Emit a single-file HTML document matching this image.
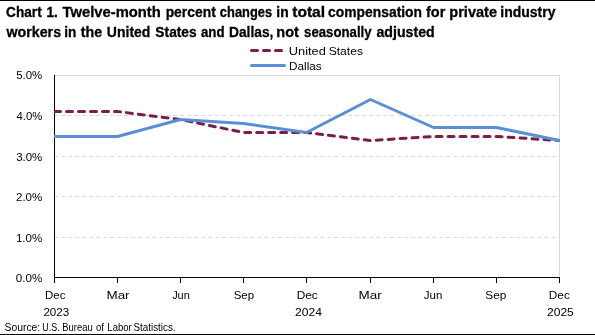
<!DOCTYPE html>
<html><head><meta charset="utf-8"><style>
html,body{margin:0;padding:0;background:#fff;width:595px;height:335px;overflow:hidden}
svg{display:block;font-family:"Liberation Sans", sans-serif;will-change:transform}
</style></head><body>
<svg width="595" height="335" viewBox="0 0 595 335">
<rect x="0" y="0" width="595" height="1" fill="#000"/>
<rect x="0" y="334" width="595" height="1" fill="#000"/>
<text x="0" y="17.2" font-size="14.5" font-weight="bold" stroke="#000" stroke-width="0.3" fill="#000" transform="matrix(0.9407 0 0 1 6.086 0)">Chart</text>
<text x="0" y="17.2" font-size="14.5" font-weight="bold" stroke="#000" stroke-width="0.3" fill="#000" transform="matrix(0.9412 0 0 1 46.503 0)">1.</text>
<text x="0" y="17.2" font-size="14.5" font-weight="bold" stroke="#000" stroke-width="0.3" fill="#000" transform="matrix(1.0205 0 0 1 62.597 0)">Twelve-month</text>
<text x="0" y="17.2" font-size="14.5" font-weight="bold" stroke="#000" stroke-width="0.3" fill="#000" transform="matrix(0.9580 0 0 1 165.640 0)">percent</text>
<text x="0" y="17.2" font-size="14.5" font-weight="bold" stroke="#000" stroke-width="0.3" fill="#000" transform="matrix(0.8881 0 0 1 219.862 0)">changes</text>
<text x="0" y="17.2" font-size="14.5" font-weight="bold" stroke="#000" stroke-width="0.3" fill="#000" transform="matrix(0.9545 0 0 1 276.295 0)">in</text>
<text x="0" y="17.2" font-size="14.5" font-weight="bold" stroke="#000" stroke-width="0.3" fill="#000" transform="matrix(1.0764 0 0 1 292.189 0)">total</text>
<text x="0" y="17.2" font-size="14.5" font-weight="bold" stroke="#000" stroke-width="0.3" fill="#000" transform="matrix(0.9561 0 0 1 328.124 0)">compensation</text>
<text x="0" y="17.2" font-size="14.5" font-weight="bold" stroke="#000" stroke-width="0.3" fill="#000" transform="matrix(1.0000 0 0 1 426.000 0)">for</text>
<text x="0" y="17.2" font-size="14.5" font-weight="bold" stroke="#000" stroke-width="0.3" fill="#000" transform="matrix(1.0043 0 0 1 449.296 0)">private</text>
<text x="0" y="17.2" font-size="14.5" font-weight="bold" stroke="#000" stroke-width="0.3" fill="#000" transform="matrix(0.9653 0 0 1 500.285 0)">industry</text>
<text x="0" y="37.2" font-size="14.5" font-weight="bold" stroke="#000" stroke-width="0.3" fill="#000" transform="matrix(0.9809 0 0 1 6.499 0)">workers</text>
<text x="0" y="37.2" font-size="14.5" font-weight="bold" stroke="#000" stroke-width="0.3" fill="#000" transform="matrix(0.9364 0 0 1 64.314 0)">in</text>
<text x="0" y="37.2" font-size="14.5" font-weight="bold" stroke="#000" stroke-width="0.3" fill="#000" transform="matrix(0.9858 0 0 1 80.802 0)">the</text>
<text x="0" y="37.2" font-size="14.5" font-weight="bold" stroke="#000" stroke-width="0.3" fill="#000" transform="matrix(0.9654 0 0 1 106.829 0)">United</text>
<text x="0" y="37.2" font-size="14.5" font-weight="bold" stroke="#000" stroke-width="0.3" fill="#000" transform="matrix(0.9506 0 0 1 155.370 0)">States</text>
<text x="0" y="37.2" font-size="14.5" font-weight="bold" stroke="#000" stroke-width="0.3" fill="#000" transform="matrix(0.9180 0 0 1 200.883 0)">and</text>
<text x="0" y="37.2" font-size="14.5" font-weight="bold" stroke="#000" stroke-width="0.3" fill="#000" transform="matrix(0.9487 0 0 1 229.049 0)">Dallas,</text>
<text x="0" y="37.2" font-size="14.5" font-weight="bold" stroke="#000" stroke-width="0.3" fill="#000" transform="matrix(1.0000 0 0 1 276.300 0)">not</text>
<text x="0" y="37.2" font-size="14.5" font-weight="bold" stroke="#000" stroke-width="0.3" fill="#000" transform="matrix(0.9103 0 0 1 304.095 0)">seasonally</text>
<text x="0" y="37.2" font-size="14.5" font-weight="bold" stroke="#000" stroke-width="0.3" fill="#000" transform="matrix(0.9785 0 0 1 376.459 0)">adjusted</text>
<line x1="251.5" y1="50.5" x2="281.5" y2="50.5" stroke="#7a1f4d" stroke-width="3" stroke-linecap="round" stroke-dasharray="6 6"/>
<line x1="251.5" y1="65.5" x2="284.5" y2="65.5" stroke="#5b8fd5" stroke-width="3" stroke-linecap="round"/>
<text x="0" y="54.8" font-size="11" fill="#000" transform="matrix(1.1669 0 0 1 288.808 0)">United</text>
<text x="0" y="54.8" font-size="11" fill="#000" transform="matrix(1.1023 0 0 1 328.649 0)">States</text>
<text x="0" y="69.8" font-size="11" fill="#000" transform="matrix(1.0667 0 0 1 289.040 0)">Dallas</text>
<path d="M54 75.5 H559.5 V277" fill="none" stroke="#d9d9d9" stroke-width="1"/>
<line x1="54.25" y1="115.5" x2="559" y2="115.5" stroke="#d9d9d9" stroke-width="1" stroke-dasharray="4 3"/>
<line x1="54.25" y1="156.5" x2="559" y2="156.5" stroke="#d9d9d9" stroke-width="1" stroke-dasharray="4 3"/>
<line x1="54.25" y1="196.5" x2="559" y2="196.5" stroke="#d9d9d9" stroke-width="1" stroke-dasharray="4 3"/>
<line x1="54.25" y1="237.5" x2="559" y2="237.5" stroke="#d9d9d9" stroke-width="1" stroke-dasharray="4 3"/>
<line x1="54.5" y1="75" x2="54.5" y2="283" stroke="#000" stroke-width="1"/>
<line x1="54" y1="277.5" x2="560" y2="277.5" stroke="#000" stroke-width="1"/>
<line x1="54.5" y1="277" x2="54.5" y2="283" stroke="#000" stroke-width="1"/>
<line x1="117.5" y1="277" x2="117.5" y2="283" stroke="#000" stroke-width="1"/>
<line x1="180.5" y1="277" x2="180.5" y2="283" stroke="#000" stroke-width="1"/>
<line x1="243.5" y1="277" x2="243.5" y2="283" stroke="#000" stroke-width="1"/>
<line x1="306.5" y1="277" x2="306.5" y2="283" stroke="#000" stroke-width="1"/>
<line x1="370.5" y1="277" x2="370.5" y2="283" stroke="#000" stroke-width="1"/>
<line x1="433.5" y1="277" x2="433.5" y2="283" stroke="#000" stroke-width="1"/>
<line x1="496.5" y1="277" x2="496.5" y2="283" stroke="#000" stroke-width="1"/>
<line x1="559.5" y1="277" x2="559.5" y2="283" stroke="#000" stroke-width="1"/>
<text x="0" y="79.2" font-size="11" fill="#000" transform="matrix(1.0392 0 0 1 16.132 0)">5.0%</text>
<text x="0" y="119.7" font-size="11" fill="#000" transform="matrix(1.0307 0 0 1 16.442 0)">4.0%</text>
<text x="0" y="160.6" font-size="11" fill="#000" transform="matrix(1.0412 0 0 1 16.184 0)">3.0%</text>
<text x="0" y="200.6" font-size="11" fill="#000" transform="matrix(1.0476 0 0 1 16.024 0)">2.0%</text>
<text x="0" y="241.9" font-size="11" fill="#000" transform="matrix(1.0524 0 0 1 15.905 0)">1.0%</text>
<text x="0" y="281.8" font-size="11" fill="#000" transform="matrix(1.0576 0 0 1 15.777 0)">0.0%</text>
<text x="0" y="298.7" font-size="10.6" fill="#000" transform="matrix(1.0791 0 0 1 45.083 0)">Dec</text>
<text x="0" y="298.7" font-size="10.6" fill="#000" transform="matrix(1.2638 0 0 1 106.526 0)">Mar</text>
<text x="0" y="298.7" font-size="10.6" fill="#000" transform="matrix(1.0338 0 0 1 172.145 0)">Jun</text>
<text x="0" y="298.7" font-size="10.6" fill="#000" transform="matrix(1.0838 0 0 1 233.658 0)">Sep</text>
<text x="0" y="298.7" font-size="10.6" fill="#000" transform="matrix(1.1186 0 0 1 296.649 0)">Dec</text>
<text x="0" y="298.7" font-size="10.6" fill="#000" transform="matrix(1.2696 0 0 1 358.621 0)">Mar</text>
<text x="0" y="298.7" font-size="10.6" fill="#000" transform="matrix(1.0831 0 0 1 423.838 0)">Jun</text>
<text x="0" y="298.7" font-size="10.6" fill="#000" transform="matrix(1.1117 0 0 1 485.344 0)">Sep</text>
<text x="0" y="298.7" font-size="10.6" fill="#000" transform="matrix(1.1130 0 0 1 548.854 0)">Dec</text>
<text x="0" y="316.2" font-size="10.6" fill="#000" transform="matrix(1.0973 0 0 1 43.396 0)">2023</text>
<text x="0" y="316.2" font-size="10.6" fill="#000" transform="matrix(1.1429 0 0 1 294.971 0)">2024</text>
<text x="0" y="316.2" font-size="10.6" fill="#000" transform="matrix(1.1372 0 0 1 546.975 0)">2025</text>
<text x="0" y="331.1" font-size="10" fill="#000" transform="matrix(1.0363 0 0 1 4.534 0)">Source:</text>
<text x="0" y="331.1" font-size="10" fill="#000" transform="matrix(0.8958 0 0 1 42.228 0)">U.S.</text>
<text x="0" y="331.1" font-size="10" fill="#000" transform="matrix(0.9416 0 0 1 62.347 0)">Bureau</text>
<text x="0" y="331.1" font-size="10" fill="#000" transform="matrix(0.9560 0 0 1 95.918 0)">of</text>
<text x="0" y="331.1" font-size="10" fill="#000" transform="matrix(0.9553 0 0 1 107.336 0)">Labor</text>
<text x="0" y="331.1" font-size="10" fill="#000" transform="matrix(0.9855 0 0 1 133.457 0)">Statistics.</text>
<clipPath id="pc"><rect x="54" y="70" width="506" height="212"/></clipPath><g clip-path="url(#pc)">
<polyline points="54.50,111.50 117.50,111.50 180.50,119.50 243.50,132.50 306.50,132.50 370.50,140.50 433.50,136.50 496.50,136.50 559.50,140.50" fill="none" stroke="#7a1f4d" stroke-width="3" stroke-linejoin="round" stroke-linecap="round" stroke-dasharray="6 6"/>
<polyline points="54.50,136.50 117.50,136.50 180.50,119.50 243.50,123.50 306.50,132.50 370.50,99.50 433.50,127.50 496.50,127.50 559.50,140.50" fill="none" stroke="#5b8fd5" stroke-width="3" stroke-linejoin="round" stroke-linecap="round"/>
</g>
</svg>
</body></html>
